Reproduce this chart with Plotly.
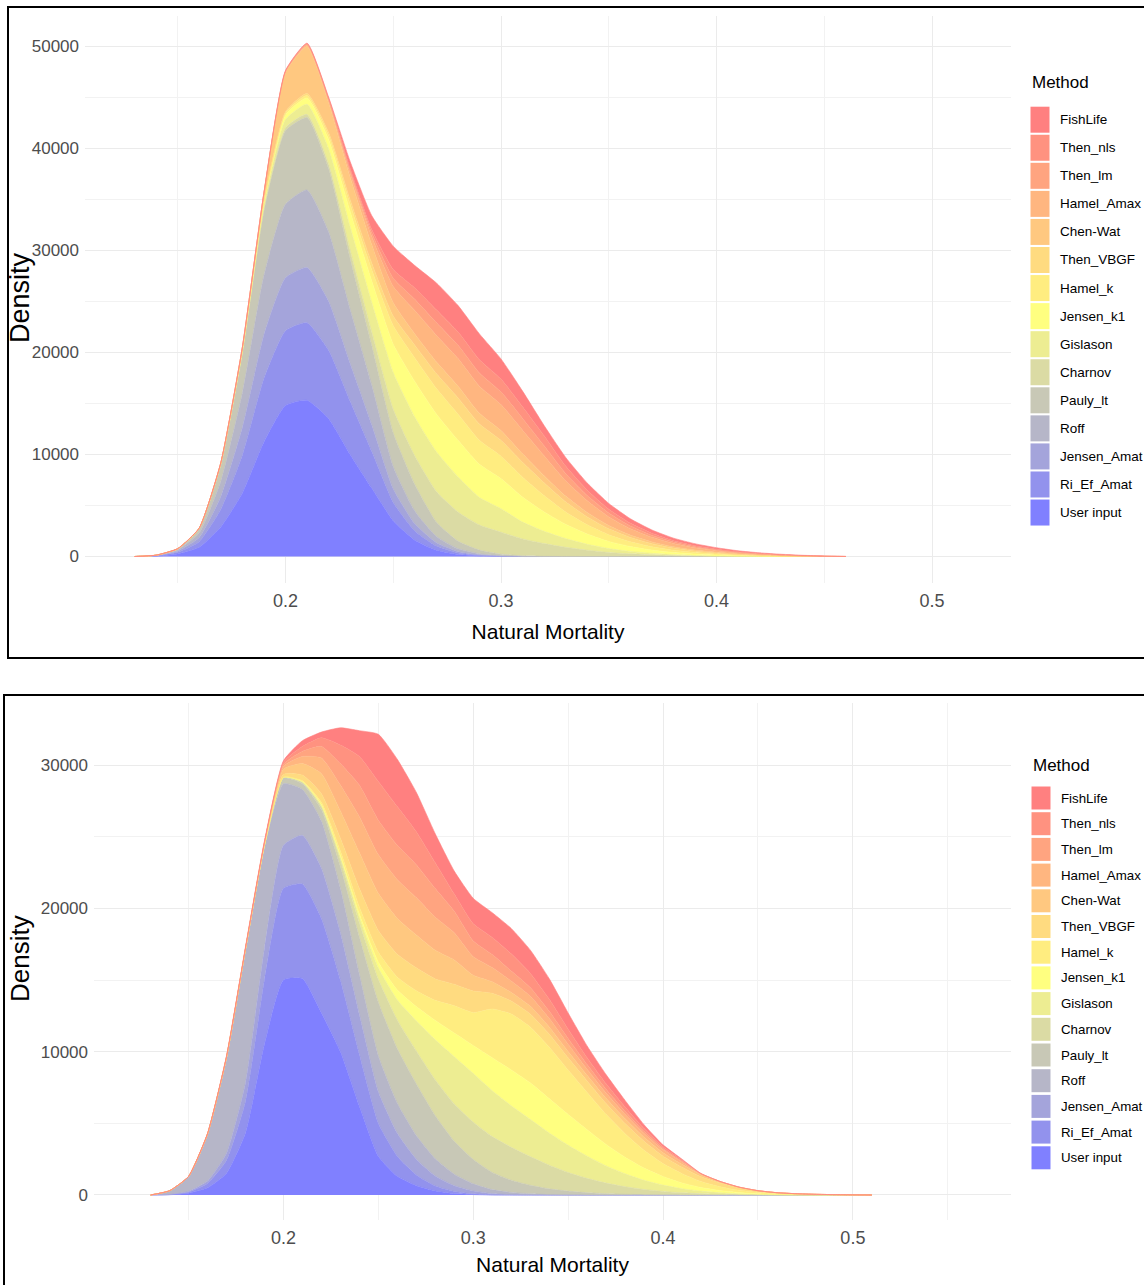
import plotly.graph_objects as go

# ---------------- data ----------------
METHODS = ["User input", "Ri_Ef_Amat", "Jensen_Amat", "Roff", "Pauly_lt", "Charnov",
           "Gislason", "Jensen_k1", "Hamel_k", "Then_VBGF", "Chen-Wat", "Hamel_Amax",
           "Then_lm", "Then_nls", "FishLife"]          # stacking order, bottom -> top
COLORS = ["#8080FF", "#9292ED", "#A4A4DB", "#B6B6C8", "#C8C8B6", "#DBDBA4", "#EDED92",
          "#FFFF80", "#FFED80", "#FFDB80", "#FFC880", "#FFB680", "#FFA480", "#FF9280", "#FF8080"]

# panel 1 (top)
X1 = [0.13, 0.14, 0.15, 0.16, 0.17, 0.18, 0.19, 0.20, 0.21, 0.22, 0.23, 0.24, 0.25, 0.26, 0.27, 0.28, 0.29,
      0.30, 0.31, 0.32, 0.33, 0.34, 0.35, 0.36, 0.37, 0.38, 0.39, 0.40, 0.41, 0.42, 0.43, 0.44, 0.45, 0.46]
UI1 = [0, 40, 250, 900, 2900, 6200, 11200, 14800, 15300, 13500, 10000, 6700, 3500, 1600, 620, 200, 60, 15,
       0, 0, 0, 0, 0, 0, 0, 0, 0, 0, 0, 0, 0, 0, 0, 0]
RI1 = [0, 30, 160, 550, 1700, 3700, 6200, 7300, 7600, 6700, 5200, 3600, 1800, 900, 400, 150, 50, 15,
       0, 0, 0, 0, 0, 0, 0, 0, 0, 0, 0, 0, 0, 0, 0, 0]
JA1 = [0, 20, 110, 400, 1250, 2700, 4300, 5200, 5400, 4800, 3700, 2600, 1300, 700, 330, 140, 50, 15,
       0, 0, 0, 0, 0, 0, 0, 0, 0, 0, 0, 0, 0, 0, 0, 0]
ROFF1 = [0, 20, 120, 450, 1500, 3400, 5800, 7200, 7600, 6800, 5300, 3900, 2200, 1250, 620, 270, 110, 35,
         10, 0, 0, 0, 0, 0, 0, 0, 0, 0, 0, 0, 0, 0, 0, 0]
PAULY1 = [0, 20, 120, 450, 1600, 3800, 6300, 7200, 7100, 6200, 5000, 3900, 3300, 2600, 1400, 750, 360, 150,
          60, 20, 5, 0, 0, 0, 0, 0, 0, 0, 0, 0, 0, 0, 0, 0]
CHARNOV1 = [0, 0, 0, 0, 50, 120, 200, 280, 300, 450, 800, 1300, 2300, 2800, 3000, 2850, 2450, 2150,
            1650, 1250, 900, 620, 400, 260, 160, 95, 55, 30, 12, 5, 0, 0, 0, 0]
GISLASON1 = [0, 0, 0, 30, 80, 200, 400, 800, 1000, 1500, 2300, 2900, 3600, 3800, 3900, 3450, 2700, 2300,
             1650, 1200, 850, 580, 380, 240, 150, 90, 50, 25, 12, 5, 0, 0, 0, 0]
JK1_1 = [0, 0, 0, 0, 40, 100, 250, 450, 600, 900, 1500, 2100, 2800, 3500, 3700, 3600, 3250, 2950,
         2450, 1900, 1400, 1000, 700, 480, 320, 210, 140, 90, 50, 25, 10, 0, 0, 0]
HK1 = [0, 0, 0, 0, 0, 50, 100, 180, 250, 400, 700, 1100, 1800, 2300, 2500, 2550, 2350, 2200,
       1950, 1600, 1200, 900, 650, 460, 320, 220, 150, 100, 65, 40, 22, 8, 0, 0]
VBGF1 = [0, 0, 0, 0, 0, 40, 80, 150, 200, 300, 450, 650, 950, 1250, 1450, 1600, 1600, 1550,
         1450, 1250, 1000, 780, 580, 430, 310, 220, 150, 105, 70, 45, 28, 15, 5, 0]
CHEN1 = [0, 0, 0, 0, 50, 150, 700, 3800, 4600, 2900, 2200, 1800, 1300, 1100, 1150, 1150, 1050, 950,
         850, 700, 560, 430, 320, 230, 170, 120, 85, 60, 40, 25, 15, 6, 0, 0]
HA1 = [0, 0, 0, 0, 0, 0, 50, 100, 150, 250, 450, 800, 1600, 2300, 2600, 2700, 2650, 2550,
       2300, 1950, 1500, 1150, 850, 620, 450, 320, 230, 165, 110, 75, 48, 28, 15, 3]
TLM1 = [0, 0, 0, 0, 0, 0, 0, 40, 60, 100, 200, 350, 800, 1100, 1250, 1300, 1300, 1250,
        1150, 980, 720, 520, 380, 270, 190, 135, 95, 70, 48, 32, 20, 12, 6, 0]
TNLS1 = [0, 0, 0, 0, 0, 0, 0, 40, 60, 100, 200, 350, 850, 1100, 1250, 1300, 1300, 1250,
         1150, 980, 720, 520, 380, 280, 200, 140, 105, 75, 53, 38, 27, 16, 9, 2]
FL1 = [0, 10, 20, 20, 30, 40, 60, 60, 60, 100, 700, 1350, 2300, 2200, 2630, 2590, 2520, 1970,
       1530, 1000, 850, 700, 560, 430, 330, 250, 190, 140, 100, 70, 50, 35, 20, 5]

# panel 2 (bottom)
X2 = [0.13, 0.14, 0.15, 0.16, 0.17, 0.18, 0.19, 0.20, 0.21, 0.22, 0.23, 0.24, 0.25, 0.26, 0.27, 0.28, 0.29,
      0.30, 0.31, 0.32, 0.33, 0.34, 0.35, 0.36, 0.37, 0.38, 0.39, 0.40, 0.41, 0.42, 0.43, 0.44, 0.45, 0.46,
      0.47, 0.48, 0.49, 0.50, 0.51]
UI2 = [0, 20, 120, 500, 1500, 4300, 10500, 15000, 15100, 12700, 10000, 6200, 2700, 1300, 650, 280, 100, 30,
       0, 0, 0, 0, 0, 0, 0, 0, 0, 0, 0, 0, 0, 0, 0, 0, 0, 0, 0, 0, 0]
RI2 = [0, 10, 80, 300, 900, 2200, 4500, 6400, 6600, 6600, 5000, 3600, 2300, 1400, 750, 350, 150, 50,
       15, 0, 0, 0, 0, 0, 0, 0, 0, 0, 0, 0, 0, 0, 0, 0, 0, 0, 0, 0, 0]
JA2 = [0, 5, 50, 170, 500, 1300, 2200, 3000, 3400, 3500, 3300, 2800, 2200, 1600, 1100, 700, 400, 200,
       80, 30, 10, 0, 0, 0, 0, 0, 0, 0, 0, 0, 0, 0, 0, 0, 0, 0, 0, 0, 0]
ROFF2 = [0, 260, 1030, 3250, 6600, 9200, 7000, 4300, 3200, 3300, 3100, 2800, 2500, 2100, 1650, 1200, 800, 500,
         280, 150, 70, 30, 10, 0, 0, 0, 0, 0, 0, 0, 0, 0, 0, 0, 0, 0, 0, 0, 0]
PAULY2 = [0, 0, 10, 40, 100, 150, 200, 400, 400, 800, 1500, 2600, 3750, 3800, 3600, 3000, 2300, 1700,
          1200, 850, 600, 400, 260, 160, 90, 50, 25, 10, 0, 0, 0, 0, 0, 0, 0, 0, 0, 0, 0]
CHARNOV2 = [0, 0, 0, 0, 0, 0, 0, 50, 100, 200, 500, 1000, 1600, 2000, 2300, 2500, 2600, 2600,
            2500, 2300, 2000, 1650, 1300, 1000, 740, 530, 360, 240, 150, 90, 50, 25, 10, 0, 0, 0, 0, 0, 0]
GISLASON2 = [0, 0, 0, 0, 0, 0, 0, 0, 50, 100, 200, 400, 800, 1400, 2100, 2800, 3300, 3400,
             3200, 2900, 2600, 2250, 1900, 1550, 1200, 900, 640, 440, 290, 180, 110, 60, 30, 12, 0, 0, 0, 0, 0]
JK1_2 = [0, 0, 0, 0, 0, 0, 0, 0, 0, 50, 100, 200, 400, 700, 1000, 1350, 1650, 1950,
         2300, 2500, 2550, 2400, 2150, 1850, 1500, 1150, 850, 600, 400, 250, 150, 85, 45, 22, 10, 0, 0, 0, 0]
HK2 = [0, 0, 0, 0, 0, 0, 0, 0, 50, 150, 300, 500, 700, 900, 1100, 1400, 1900, 2300,
       3400, 3900, 3900, 3600, 3100, 2600, 2100, 1650, 1250, 900, 650, 420, 270, 160, 90, 50, 25, 12, 5, 0, 0]
VBGF2 = [0, 0, 0, 0, 0, 0, 50, 200, 400, 600, 900, 1300, 1500, 1600, 1600, 1500, 1500, 1500,
         1100, 900, 900, 900, 850, 800, 750, 700, 620, 520, 450, 330, 250, 180, 115, 76, 55, 38, 20, 10, 0]
CHEN2 = [0, 0, 0, 0, 30, 60, 100, 350, 800, 1400, 1900, 2500, 2600, 2500, 2300, 2000, 1700, 1100,
         800, 600, 550, 500, 450, 400, 370, 340, 290, 240, 200, 130, 80, 30, 10, 0, 0, 0, 0, 0, 0]
HA2 = [0, 0, 0, 0, 0, 0, 50, 200, 500, 1100, 1800, 2500, 2700, 2700, 2600, 2300, 1900, 1300,
       1000, 800, 700, 600, 500, 420, 370, 320, 260, 200, 150, 60, 30, 10, 0, 0, 0, 0, 0, 0, 0]
TLM2 = [0, 0, 0, 0, 0, 0, 0, 150, 350, 800, 1500, 2200, 2400, 2400, 2300, 2000, 1500, 1100,
        900, 700, 600, 500, 400, 320, 260, 210, 150, 100, 60, 20, 5, 0, 0, 0, 0, 0, 0, 0, 0]
TNLS2 = [0, 0, 0, 0, 0, 0, 0, 150, 350, 600, 1300, 2000, 2700, 2700, 2300, 1800, 1200, 1200,
         1200, 1200, 1000, 850, 650, 480, 380, 290, 190, 110, 80, 15, 3, 0, 0, 0, 0, 0, 0, 0, 0]
FL2 = [0, 5, 10, 40, 70, 90, 100, 100, 400, 400, 1200, 1800, 3300, 3300, 2750, 2020, 1600, 1770,
       1725, 1770, 1620, 1420, 1130, 820, 640, 460, 265, 140, 70, 5, 2, 0, 0, 0, 0, 0, 0, 0, 0]

P1 = [UI1, RI1, JA1, ROFF1, PAULY1, CHARNOV1, GISLASON1, JK1_1, HK1, VBGF1, CHEN1, HA1, TLM1, TNLS1, FL1]
P2 = [UI2, RI2, JA2, ROFF2, PAULY2, CHARNOV2, GISLASON2, JK1_2, HK2, VBGF2, CHEN2, HA2, TLM2, TNLS2, FL2]

X_TICKS = [0.2, 0.3, 0.4, 0.5]
X_TICK_TEXT = ["0.2", "0.3", "0.4", "0.5"]
Y1_TICKS = [0, 10000, 20000, 30000, 40000, 50000]
Y2_TICKS = [0, 10000, 20000, 30000]
LEGEND_TITLE = "Method"
X_TITLE = "Natural Mortality"
Y_TITLE = "Density"

# ---------------- figure ----------------
W, H = 1144, 1285
FONT = "Liberation Sans, Arial, sans-serif"


def fx(px):
    return px / W


def fy(py):
    return 1 - py / H


fig = go.Figure()
for xs, data, grp, xa, ya in [(X1, P1, "p1", "x", "y"), (X2, P2, "p2", "x2", "y2")]:
    for name, color, vals in zip(METHODS, COLORS, data):
        fig.add_trace(go.Scatter(
            x=xs, y=vals, name=name, stackgroup=grp, mode="lines",
            line=dict(width=0.6, color=color, shape="spline", smoothing=0.5),
            fillcolor=color, showlegend=False, hoverinfo="skip",
            xaxis=xa, yaxis=ya))

grid_major = dict(showgrid=True, gridcolor="#EBEBEB", gridwidth=1.4, zeroline=False,
                  showline=False, ticks="", automargin=False)


def xaxis_cfg(domain, rng, anchor, standoff):
    return dict(domain=domain, range=rng, anchor=anchor, tickvals=X_TICKS, ticktext=X_TICK_TEXT,
                minor=dict(tickvals=[0.15, 0.25, 0.35, 0.45, 0.55], showgrid=True,
                           gridcolor="#F2F2F2", gridwidth=1.1),
                tickfont=dict(family=FONT, size=18, color="#4D4D4D"),
                ticklabelstandoff=5,
                title=dict(text=X_TITLE, font=dict(family=FONT, size=21, color="#000000"),
                           standoff=standoff),
                **grid_major)


def yaxis_cfg(domain, rng, anchor, ticks, minor):
    return dict(domain=domain, range=rng, anchor=anchor, tickvals=ticks,
                ticktext=[str(t) for t in ticks],
                minor=dict(tickvals=minor, showgrid=True, gridcolor="#F2F2F2", gridwidth=1.1),
                tickfont=dict(family=FONT, size=17, color="#4D4D4D"),
                ticklabelstandoff=5,
                **grid_major)


fig.update_layout(
    width=W, height=H, autosize=False,
    margin=dict(l=0, r=0, t=0, b=0, pad=0),
    paper_bgcolor="white", plot_bgcolor="white", showlegend=False,
    xaxis=xaxis_cfg([fx(85), fx(1011)], [0.107, 0.5366], "y", 14),
    yaxis=yaxis_cfg([fy(583), fy(16)], [-2595, 52940], "x", Y1_TICKS,
                    [5000, 15000, 25000, 35000, 45000]),
    xaxis2=xaxis_cfg([fx(94), fx(1011)], [0.1002, 0.5833], "y2", 10),
    yaxis2=yaxis_cfg([fy(1220), fy(703)], [-1745, 34330], "x2", Y2_TICKS,
                     [5000, 15000, 25000]),
)

shapes = [
    dict(type="rect", xref="paper", yref="paper", x0=fx(8), x1=fx(1170), y0=fy(658), y1=fy(7),
         line=dict(color="black", width=2), fillcolor="rgba(0,0,0,0)"),
    dict(type="rect", xref="paper", yref="paper", x0=fx(4), x1=fx(1170), y0=fy(1300), y1=fy(695),
         line=dict(color="black", width=2), fillcolor="rgba(0,0,0,0)"),
]
annotations = [
    # y-axis titles (rotated), placed where the reference shows them
    dict(text=Y_TITLE, xref="paper", yref="paper", x=fx(20), y=fy(298), textangle=-90,
         xanchor="center", yanchor="middle", showarrow=False,
         font=dict(family=FONT, size=27, color="#000000")),
    dict(text=Y_TITLE, xref="paper", yref="paper", x=fx(20), y=fy(959), textangle=-90,
         xanchor="center", yanchor="middle", showarrow=False,
         font=dict(family=FONT, size=26, color="#000000")),
]

# legends (one per panel), ordered top -> bottom as in the reference
legend_specs = [
    dict(title_y=83, sw_x=1030.5, txt_x=1058, y0=119.7, pitch=28.06, sw_h=26, size=13.5, tsize=17),
    dict(title_y=765, sw_x=1031.5, txt_x=1059, y0=798.0, pitch=25.7, sw_h=23, size=13.3, tsize=17),
]
for spec in legend_specs:
    annotations.append(dict(text=LEGEND_TITLE, xref="paper", yref="paper", x=fx(spec["sw_x"] - 1),
                            y=fy(spec["title_y"]), xanchor="left", yanchor="middle", showarrow=False,
                            font=dict(family=FONT, size=spec["tsize"], color="#000000")))
    for i, (name, color) in enumerate(zip(METHODS[::-1], COLORS[::-1])):
        cy = spec["y0"] + i * spec["pitch"]
        shapes.append(dict(type="rect", xref="paper", yref="paper",
                           x0=fx(spec["sw_x"]), x1=fx(spec["sw_x"] + 19),
                           y0=fy(cy + spec["sw_h"] / 2), y1=fy(cy - spec["sw_h"] / 2),
                           line=dict(width=0), fillcolor=color))
        annotations.append(dict(text=name, xref="paper", yref="paper", x=fx(spec["txt_x"]), y=fy(cy),
                                xanchor="left", yanchor="middle", showarrow=False,
                                font=dict(family=FONT, size=spec["size"], color="#000000")))

fig.update_layout(shapes=shapes, annotations=annotations)
fig.write_html("out.html")
